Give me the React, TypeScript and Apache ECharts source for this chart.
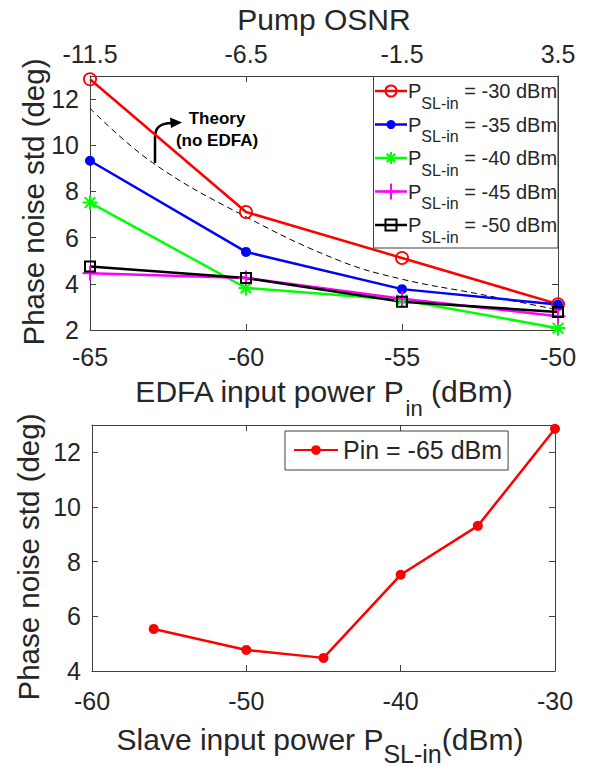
import React, { useEffect, useRef } from 'react';
import * as echarts from 'echarts';

const FONT_NAME = 'Liberation Sans';
const FONT = '"Liberation Sans", Arial, Helvetica, sans-serif';
const TEXT = '#262626';
const AXIS = '#404040';

// ---- top panel data ----
const pinValues = [-65, -60, -55, -50];
const osnrLabels = ['-11.5', '-6.5', '-1.5', '3.5'];
const psl30 = [12.86, 7.11, 5.12, 3.12];
const psl35 = [9.33, 5.38, 3.77, 3.1];
const psl40 = [7.52, 3.82, 3.3, 2.08];
const psl45 = [4.46, 4.25, 3.35, 2.6];
const psl50 = [4.75, 4.25, 3.22, 2.78];
const theoryPin = [-65, -63, -60, -57, -55, -52.5, -50];
const theoryValues = [11.6, 9.25, 6.9, 5.0, 4.2, 3.55, 2.87];
const topSeriesNames = [
  'P_SL-in = -30 dBm',
  'P_SL-in = -35 dBm',
  'P_SL-in = -40 dBm',
  'P_SL-in = -45 dBm',
  'P_SL-in = -50 dBm',
];
const topLegendValues = ['= -30 dBm', '= -35 dBm', '= -40 dBm', '= -45 dBm', '= -50 dBm'];
const topColors = ['#ff0000', '#0000ff', '#00ff00', '#ff00ff', '#000000'];

// ---- bottom panel data ----
const pslValues = [-56, -50, -45, -40, -35, -30];
const pin65Values = [5.54, 4.77, 4.48, 7.52, 9.31, 12.86];
const bottomSeriesName = 'Pin = -65 dBm';

const ringPath =
  'path://M0,-10A10,10,0,1,1,0,10A10,10,0,1,1,0,-10ZM0,-7.4A7.4,7.4,0,1,0,0,7.4A7.4,7.4,0,1,0,0,-7.4Z';
const squarePath = 'path://M0,0H12V12H0ZM2,2V10H10V2Z';
const plusPath = 'path://M7,0H9V7H16V9H9V16H7V9H0V7H7Z';
const starPath =
  'path://M0,6.9H16V9.1H0Z M6.9,0H9.1V16H6.9Z M3.1,1.6L14.4,12.9L12.9,14.4L1.6,3.1Z M1.6,12.9L12.9,1.6L14.4,3.1L3.1,14.4Z';
const topSymbols = [ringPath, 'circle', starPath, plusPath, squarePath];
const topSymbolSizes = [14, 10, 15, 15, 12];

const zip = (xs: number[], ys: number[]) => xs.map((x, i) => [x, ys[i]]);

let measureCtx: CanvasRenderingContext2D | null = null;
function measure(text: string, size: number, weight = 'normal') {
  if (!measureCtx) measureCtx = document.createElement('canvas').getContext('2d');
  if (!measureCtx) return text.length * size * 0.55;
  measureCtx.font = `${weight} ${size}px "${FONT_NAME}"`;
  return measureCtx.measureText(text).width;
}

type Seg = { text: string; size: number; dy: number };

function segText(segs: Seg[], cx: number, cy: number, align: 'center' | 'left', z = 20) {
  const widths = segs.map((s) => measure(s.text, s.size));
  const total = widths.reduce((a, b) => a + b, 0);
  let x = align === 'center' ? cx - total / 2 : cx;
  return segs.map((s, i) => {
    const el = {
      type: 'text',
      x,
      y: cy + s.dy,
      z,
      style: {
        text: s.text,
        fontSize: s.size,
        fontFamily: FONT,
        fill: TEXT,
        align: 'left',
        verticalAlign: 'middle',
      },
    };
    x += widths[i];
    return el;
  });
}

function legendIcon(i: number, cx: number, cy: number) {
  const color = topColors[i];
  const z = 21;
  const els: any[] = [
    {
      type: 'line',
      z,
      shape: { x1: cx - 16, y1: cy, x2: cx + 16, y2: cy },
      style: { stroke: color, lineWidth: 2.5 },
    },
  ];
  const ln = (x1: number, y1: number, x2: number, y2: number) => ({
    type: 'line',
    z: z + 1,
    shape: { x1, y1, x2, y2 },
    style: { stroke: color, lineWidth: 2 },
  });
  if (i === 0) {
    els.push({ type: 'circle', z: z + 1, shape: { cx, cy, r: 5.5 }, style: { fill: 'none', stroke: color, lineWidth: 2 } });
  } else if (i === 1) {
    els.push({ type: 'circle', z: z + 1, shape: { cx, cy, r: 4.5 }, style: { fill: color } });
  } else if (i === 2) {
    els.push(ln(cx - 6, cy, cx + 6, cy), ln(cx, cy - 6, cx, cy + 6), ln(cx - 4.3, cy - 4.3, cx + 4.3, cy + 4.3), ln(cx - 4.3, cy + 4.3, cx + 4.3, cy - 4.3));
  } else if (i === 3) {
    els.push(ln(cx - 8, cy, cx + 8, cy), ln(cx, cy - 8, cx, cy + 8));
  } else {
    els.push({ type: 'rect', z: z + 1, shape: { x: cx - 5.5, y: cy - 5.5, width: 11, height: 11 }, style: { fill: 'none', stroke: color, lineWidth: 2 } });
  }
  return els;
}

export default function App() {
  const ref = useRef<HTMLDivElement>(null);

  useEffect(() => {
    document.body.style.margin = '0';
    if (!ref.current) return;
    const chart = echarts.init(ref.current, null, { renderer: 'svg' });

    const axisCommon = {
      axisLine: { show: true, lineStyle: { color: AXIS, width: 1 } },
      axisTick: { show: true, inside: true, length: 6, lineStyle: { color: AXIS } },
      splitLine: { show: false },
      axisLabel: { color: TEXT, fontSize: 25, fontFamily: FONT },
    };

    const topSeries = topSeriesNames.map((name, i) => ({
      type: 'line',
      name,
      xAxisIndex: 0,
      yAxisIndex: 0,
      data: zip(pinValues, [psl30, psl35, psl40, psl45, psl50][i]),
      symbol: topSymbols[i],
      symbolSize: topSymbolSizes[i],
      showAllSymbol: true,
      lineStyle: { color: topColors[i], width: 2.5 },
      itemStyle: { color: topColors[i], borderWidth: 0 },
      emphasis: { disabled: true },
      z: 3,
    }));

    // custom top legend (box + icons + texts with subscripts)
    const legendEls: any[] = [
      {
        type: 'rect',
        z: 20,
        shape: { x: 373.5, y: 76.5, width: 184.5, height: 171.5 },
        style: { fill: '#ffffff', stroke: AXIS, lineWidth: 1 },
      },
    ];
    topLegendValues.forEach((val, i) => {
      const cy = 91 + 33.5 * i;
      legendEls.push(...legendIcon(i, 391, cy));
      legendEls.push(
        ...segText(
          [
            { text: 'P', size: 20, dy: 0 },
            { text: 'SL-in', size: 16, dy: 12 },
            { text: ' ' + val, size: 20, dy: 0 },
          ],
          408,
          cy,
          'left',
          22
        )
      );
    });

    const option: any = {
      animation: false,
      backgroundColor: '#ffffff',
      textStyle: { fontFamily: FONT },
      grid: [
        { left: 90, top: 76, width: 468, height: 254 },
        { left: 92, top: 425, width: 463, height: 246 },
      ],
      xAxis: [
        {
          ...axisCommon,
          type: 'value',
          gridIndex: 0,
          position: 'bottom',
          min: -65,
          max: -50,
          interval: 5,
          axisLabel: { ...axisCommon.axisLabel, margin: 14 },
        },
        {
          ...axisCommon,
          type: 'value',
          gridIndex: 0,
          position: 'top',
          min: -65,
          max: -50,
          interval: 5,
          axisLabel: {
            ...axisCommon.axisLabel,
            margin: 10,
            formatter: (_v: number, i: number) => osnrLabels[i] ?? '',
          },
        },
        {
          ...axisCommon,
          type: 'value',
          gridIndex: 1,
          position: 'bottom',
          min: -60,
          max: -30,
          interval: 10,
          axisLabel: { ...axisCommon.axisLabel, margin: 17 },
        },
        {
          ...axisCommon,
          type: 'value',
          gridIndex: 1,
          position: 'top',
          min: -60,
          max: -30,
          interval: 10,
          axisLabel: { show: false },
        },
      ],
      yAxis: [
        {
          ...axisCommon,
          type: 'value',
          gridIndex: 0,
          position: 'left',
          min: 2,
          max: 13,
          interval: 2,
          axisLabel: { ...axisCommon.axisLabel, margin: 11, showMaxLabel: false },
        },
        {
          ...axisCommon,
          type: 'value',
          gridIndex: 0,
          position: 'right',
          min: 2,
          max: 13,
          interval: 2,
          axisLabel: { show: false },
        },
        {
          ...axisCommon,
          type: 'value',
          gridIndex: 1,
          position: 'left',
          min: 4,
          max: 13,
          interval: 2,
          axisLabel: { ...axisCommon.axisLabel, margin: 11, showMaxLabel: false },
        },
        {
          ...axisCommon,
          type: 'value',
          gridIndex: 1,
          position: 'right',
          min: 4,
          max: 13,
          interval: 2,
          axisLabel: { show: false },
        },
      ],
      legend: [
        {
          data: [bottomSeriesName],
          orient: 'vertical',
          left: 285,
          top: 431,
          padding: [5, 6, 6, 8],
          itemWidth: 44,
          itemHeight: 12,
          backgroundColor: '#ffffff',
          borderColor: AXIS,
          borderWidth: 1,
          borderRadius: 0,
          selectedMode: false,
          textStyle: { color: TEXT, fontFamily: FONT, fontSize: 25, lineHeight: 28 },
        },
      ],
      series: [
        {
          type: 'line',
          name: 'Theory (no EDFA)',
          xAxisIndex: 0,
          yAxisIndex: 0,
          data: zip(theoryPin, theoryValues),
          smooth: 0.4,
          symbol: 'none',
          lineStyle: { color: '#000000', width: 1, type: [6, 4] },
          emphasis: { disabled: true },
          z: 2,
        },
        ...topSeries,
        {
          type: 'line',
          name: bottomSeriesName,
          xAxisIndex: 2,
          yAxisIndex: 2,
          data: zip(pslValues, pin65Values),
          symbol: 'circle',
          symbolSize: 10,
          lineStyle: { color: '#ff0000', width: 2.5 },
          itemStyle: { color: '#ff0000' },
          emphasis: { disabled: true },
        },
      ],
      graphic: [
        {
          type: 'text',
          x: 324,
          y: 19,
          style: {
            text: 'Pump OSNR',
            fontSize: 30,
            fontFamily: FONT,
            fill: TEXT,
            align: 'center',
            verticalAlign: 'middle',
          },
        },
        {
          type: 'text',
          x: 33,
          y: 202,
          rotation: Math.PI / 2,
          style: {
            text: 'Phase noise std (deg)',
            fontSize: 29.5,
            fontFamily: FONT,
            fill: TEXT,
            align: 'center',
            verticalAlign: 'middle',
          },
        },
        {
          type: 'text',
          x: 28,
          y: 557,
          rotation: Math.PI / 2,
          style: {
            text: 'Phase noise std (deg)',
            fontSize: 29.5,
            fontFamily: FONT,
            fill: TEXT,
            align: 'center',
            verticalAlign: 'middle',
          },
        },
        ...segText(
          [
            { text: 'EDFA input power P', size: 30, dy: 0 },
            { text: 'in', size: 22, dy: 17 },
            { text: ' (dBm)', size: 30, dy: 0 },
          ],
          324,
          391,
          'center'
        ),
        ...segText(
          [
            { text: 'Slave input power P', size: 30, dy: 0 },
            { text: 'SL-in', size: 25, dy: 15 },
            { text: '(dBm)', size: 30, dy: 0 },
          ],
          320,
          739,
          'center'
        ),
        {
          type: 'text',
          x: 217,
          y: 118,
          style: {
            text: 'Theory',
            fontSize: 17,
            fontWeight: 'bold',
            fontFamily: FONT,
            fill: '#000000',
            align: 'center',
            verticalAlign: 'middle',
          },
        },
        {
          type: 'text',
          x: 217,
          y: 140,
          style: {
            text: '(no EDFA)',
            fontSize: 17,
            fontWeight: 'bold',
            fontFamily: FONT,
            fill: '#000000',
            align: 'center',
            verticalAlign: 'middle',
          },
        },
        {
          type: 'polyline',
          shape: { points: [[155, 163], [155, 137]] },
          style: { stroke: '#000000', lineWidth: 2.5, fill: null },
        },
        {
          type: 'bezierCurve',
          shape: { x1: 155, y1: 137, cpx1: 155, cpy1: 126, cpx2: 162, cpy2: 123, x2: 172, y2: 123 },
          style: { stroke: '#000000', lineWidth: 2.5, fill: null },
        },
        {
          type: 'polygon',
          shape: { points: [[182, 122.5], [170, 117.5], [171, 128]] },
          style: { fill: '#000000' },
        },
        ...legendEls,
      ],
    };

    chart.setOption(option);
    return () => chart.dispose();
  }, []);

  return <div ref={ref} style={{ width: 591, height: 767 }} />;
}
